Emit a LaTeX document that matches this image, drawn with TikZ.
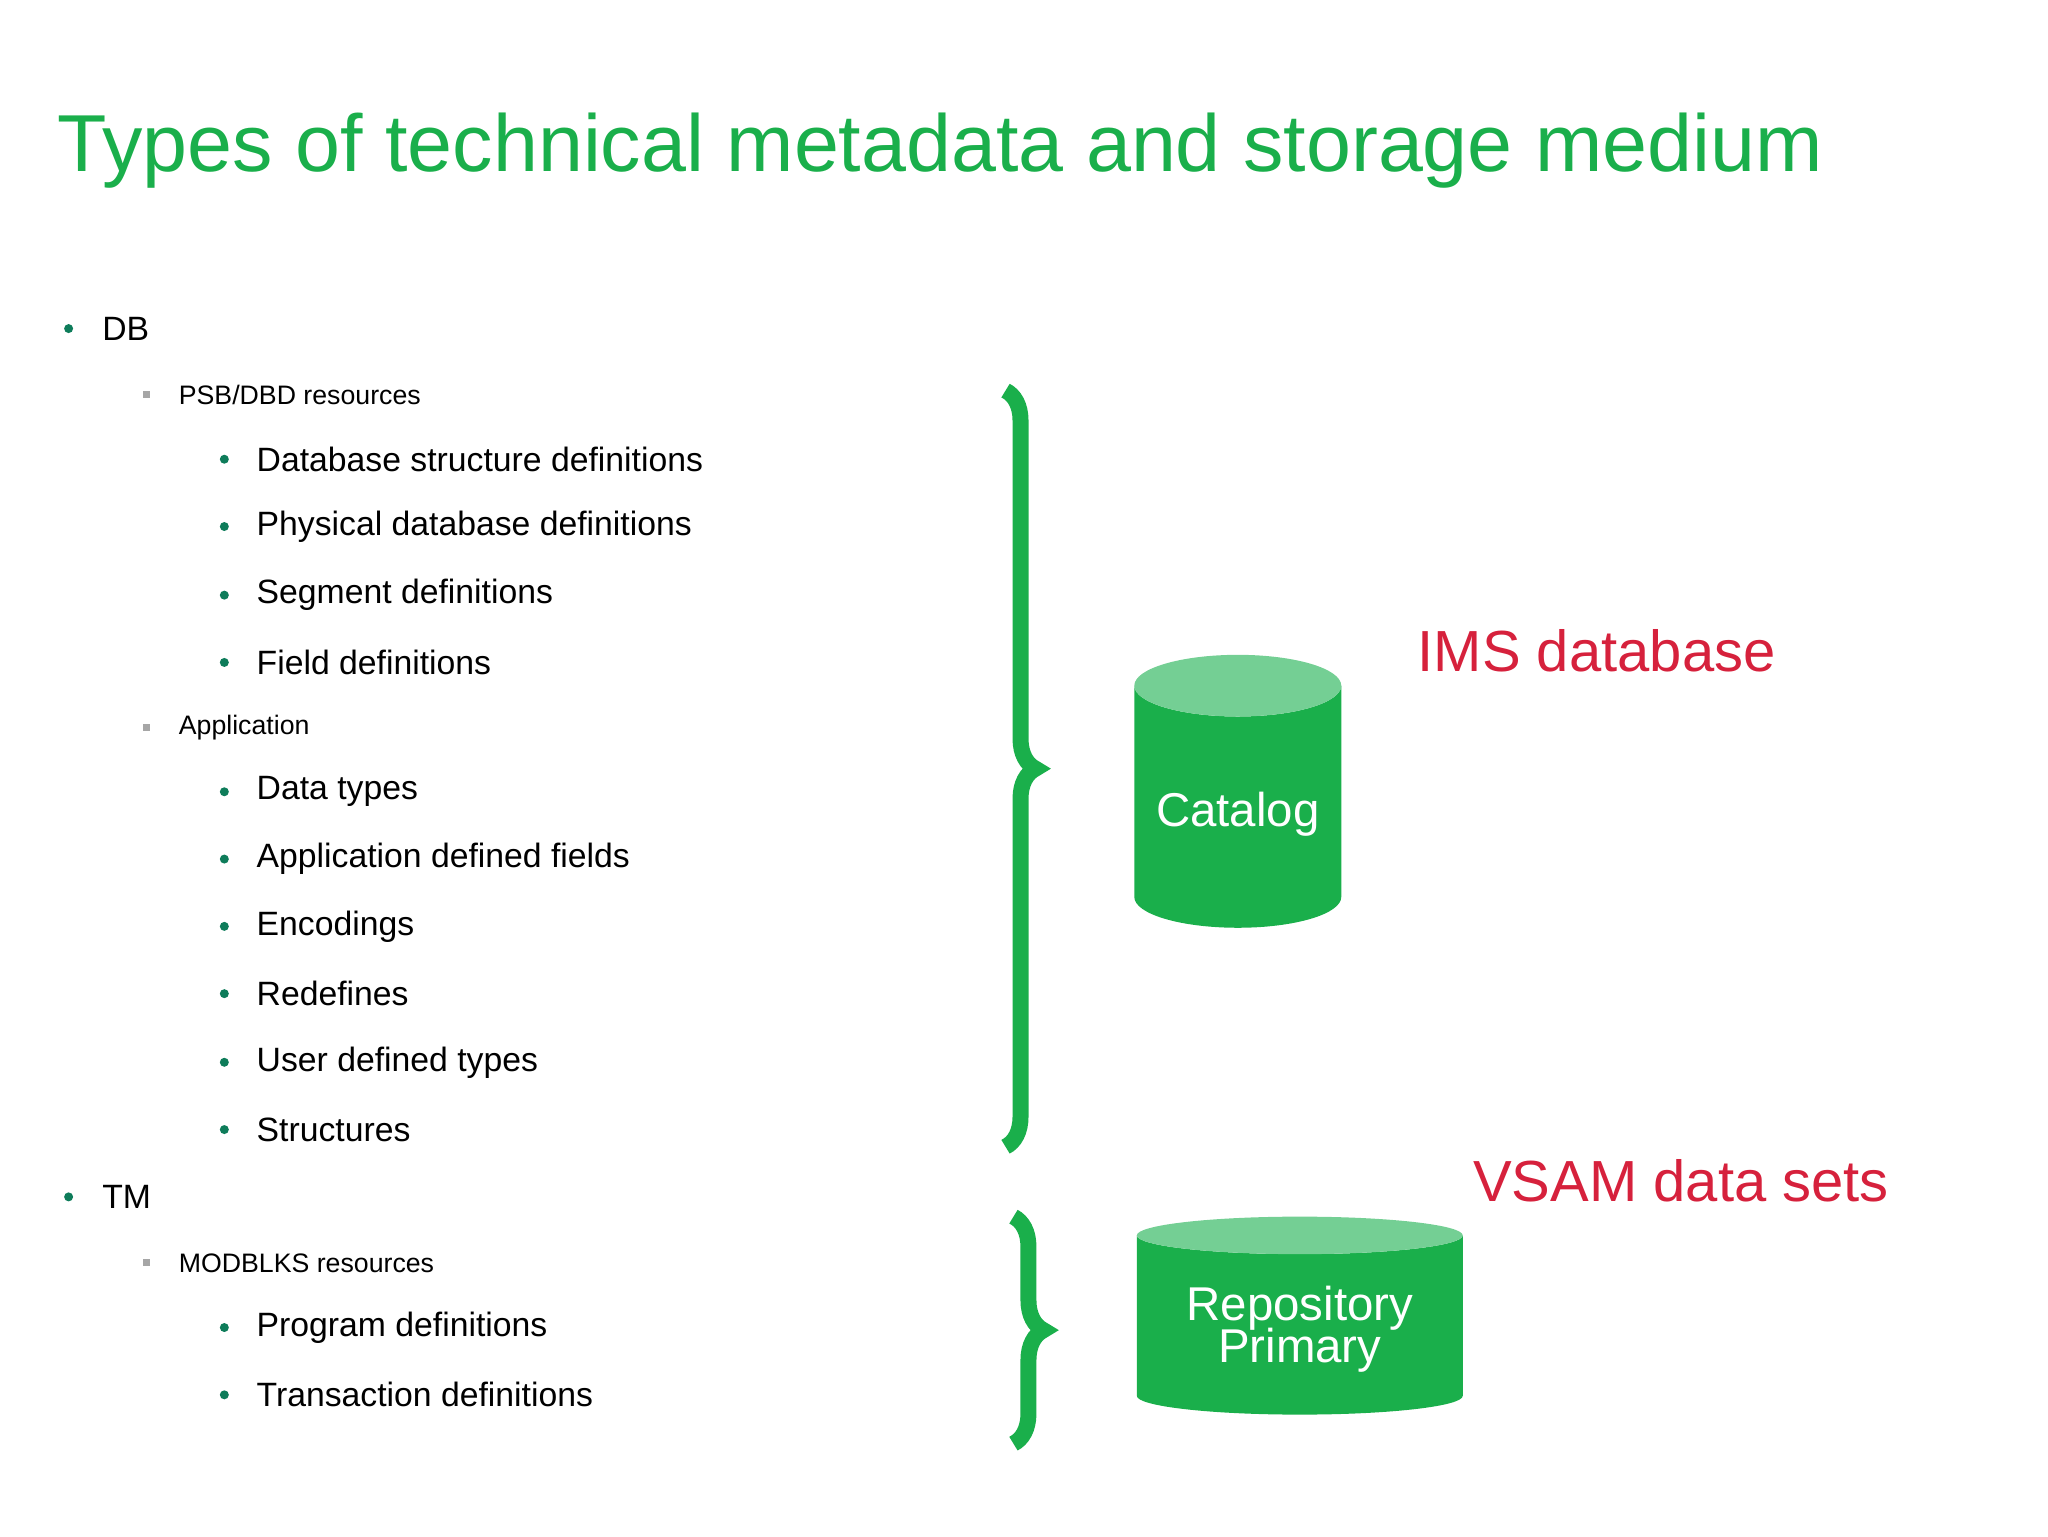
\documentclass[tikz,border=0pt]{standalone}
\usepackage{fontspec}
\setmainfont{Liberation Sans}
\usetikzlibrary{positioning,shapes.geometric,decorations.pathreplacing}
\definecolor{ibmgreen}{HTML}{1AAF4B}
\definecolor{lightgreen}{HTML}{74CF94}
\definecolor{dotgreen}{HTML}{0E7C5A}
\definecolor{imsred}{HTML}{D6213C}
\begin{document}
\begin{tikzpicture}[x=0.0132cm,y=-0.0132cm,
  item/.style={anchor=west,font=\fontsize{9.6}{11}\selectfont,inner sep=0pt},
  sub/.style={anchor=west,font=\fontsize{7.6}{9}\selectfont,inner sep=0pt},
  dot/.style={circle,fill=dotgreen,inner sep=0pt,minimum size=0.09cm},
  sq/.style={rectangle,fill=gray!70,inner sep=0pt,minimum size=0.07cm},
  bracket/.style={decorate,decoration={brace,amplitude=0.3cm},line width=0.16cm,draw=ibmgreen},
  store/.style={cylinder,shape border rotate=90,draw=none,cylinder uses custom fill,
    cylinder body fill=ibmgreen,cylinder end fill=lightgreen,text=white,
    font=\fontsize{13.5}{14}\selectfont,align=center},
  label/.style={text=imsred,font=\fontsize{16.5}{19}\selectfont,inner sep=0pt}]
\useasboundingbox (0,0) rectangle (1552,1164);
\node[anchor=base west,text=ibmgreen,font=\fontsize{23}{27}\selectfont,inner sep=0pt] (title) at (43,130) {Types of technical metadata and storage medium};
% top level
\node[dot] (d-db) at (52,249) {}; \node[item] (db) at (77,249) {DB};
\node[dot] (d-tm) at (52,907) {}; \node[item] (tm) at (77,907) {TM};
% second level
\foreach \y/\t in {299/PSB\slash DBD resources,551/Application,957/MODBLKS resources}{
  \node[sq] at (111,\y) {}; \node[sub] at (135,\y) {\t};}
% third level
\foreach \y/\t in {348/Database structure definitions,399/Physical database definitions,
  451/Segment definitions,502/Field definitions,600/Data types,651/Application defined fields,
  702/Encodings,753/Redefines,805/User defined types,856/Structures,
  1006/Program definitions,1057/Transaction definitions}{
  \node[dot] at (170,\y) {}; \node[item] at (194,\y) {\t};}
% braces
\coordinate (b1-top) at (762,296);
\coordinate (b1-bot) at (762,869);
\coordinate (b2-top) at (768,922);
\coordinate (b2-bot) at (768,1094);
\draw[bracket] (b1-top) -- (b1-bot);
\draw[bracket] (b2-top) -- (b2-bot);
% storage
\node[store,minimum width=2.07cm,minimum height=2.73cm,aspect=0.33] (catalog) at (938,617) {Catalog};
\node[store,minimum width=3.26cm,minimum height=1.98cm,aspect=0.15] (repo) at (985,1007) {Repository\\[-2pt]Primary};
\node[label] (ims) at (1210,493) {IMS database};
\node[label] (vsam) at (1274,895) {VSAM data sets};
\end{tikzpicture}
\end{document}
